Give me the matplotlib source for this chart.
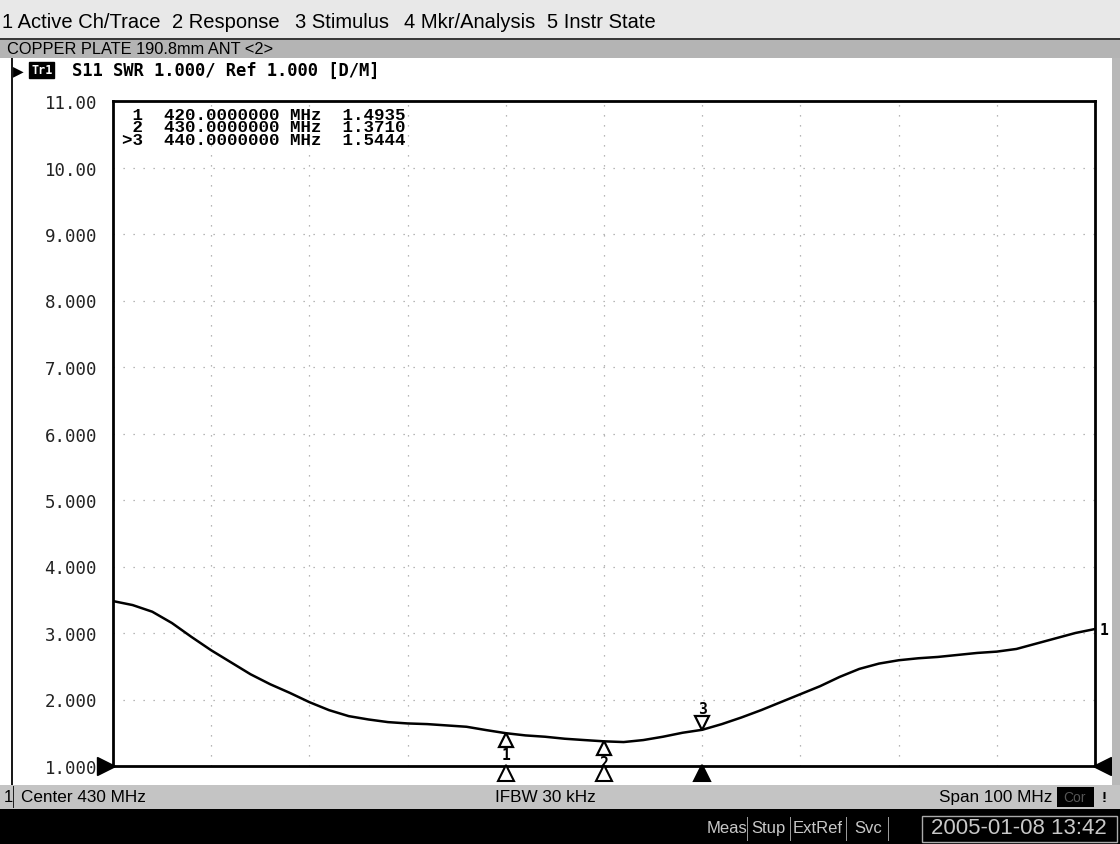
import numpy as np
import matplotlib.pyplot as plt
from matplotlib.patches import Rectangle
import matplotlib.transforms as mtransforms

# S11 SWR trace (center 430 MHz, span 100 MHz)
freq_mhz = [380, 382, 384, 386, 388, 390, 392, 394, 396, 398,
            400, 402, 404, 406, 408, 410, 412, 414, 416, 418,
            420, 422, 424, 426, 428, 430, 432, 434, 436, 438,
            440, 442, 444, 446, 448, 450, 452, 454, 456, 458,
            460, 462, 464, 466, 468, 470, 472, 474, 476, 478, 480]
swr = [3.48, 3.42, 3.32, 3.15, 2.94, 2.74, 2.56, 2.38, 2.23, 2.10,
       1.96, 1.84, 1.75, 1.70, 1.66, 1.64, 1.63, 1.61, 1.59, 1.54,
       1.4935, 1.46, 1.44, 1.41, 1.39, 1.3710, 1.36, 1.39, 1.44, 1.50,
       1.5444, 1.63, 1.73, 1.84, 1.96, 2.08, 2.20, 2.34, 2.46, 2.54,
       2.59, 2.62, 2.64, 2.67, 2.70, 2.72, 2.76, 2.84, 2.92, 3.00, 3.06]

# markers
mkr_num = ['1', '2', '3']
mkr_freq = [420.0, 430.0, 440.0]
mkr_swr = [1.4935, 1.3710, 1.5444]
active_mkr = 2

y_ticks = [1, 2, 3, 4, 5, 6, 7, 8, 9, 10, 11]
y_tick_labels = ['1.000', '2.000', '3.000', '4.000', '5.000', '6.000',
                 '7.000', '8.000', '9.000', '10.00', '11.00']

menu_items = ['1 Active Ch/Trace', '2 Response', '3 Stimulus', '4 Mkr/Analysis', '5 Instr State']
title_text = 'COPPER PLATE 190.8mm ANT <2>'
trace_text = 'S11 SWR 1.000/ Ref 1.000 [D/M]'
status_left = 'Center 430 MHz'
status_mid = 'IFBW 30 kHz'
status_right = 'Span 100 MHz'
buttons = ['Meas', 'Stup', 'ExtRef', 'Svc', '2005-01-08 13:42']

W, H = 1120, 845
fig = plt.figure(figsize=(W / 100, H / 100), dpi=100)
fig.patch.set_facecolor('white')


def fx(x):
    return x / W


def fy(y):
    return 1 - y / H


def band(y0, y1, color, x0=0, x1=W):
    fig.patches.append(Rectangle((fx(x0), fy(y1)), (x1 - x0) / W, (y1 - y0) / H,
                                 transform=fig.transFigure, facecolor=color,
                                 edgecolor='none', zorder=0))


# screen chrome
band(0, 39, '#e8e8e8')
band(39, 41, '#3a3a3a')
band(41, 59, '#b4b4b4')
band(786, 810, '#c4c4c4')
band(810, 845, '#000000')
band(59, 786, '#1a1a1a', x0=11, x1=13)
band(59, 786, '#b8b8b8', x0=1112, x1=1120)

menu_x = [2, 172, 295, 404, 547]
for item, x in zip(menu_items, menu_x):
    fig.text(fx(x), fy(22), item, family='Liberation Sans', fontsize=14.5,
             va='center', ha='left', color='black')
fig.text(fx(7), fy(49), title_text, family='Liberation Sans', fontsize=11.8,
         va='center', ha='left', color='black')

# trace header line
fig.text(fx(13), fy(71), '\u25B6', family='DejaVu Sans', fontsize=10,
         va='center', ha='left', color='black')
fig.text(fx(31), fy(71), 'Tr1', family='DejaVu Sans Mono', fontsize=8.5, weight='bold',
         va='center', ha='left', color='white',
         bbox=dict(boxstyle='square,pad=0.15', fc='black', ec='black'))
fig.text(fx(72), fy(71), trace_text, family='DejaVu Sans Mono', fontsize=12.3,
         weight='bold', va='center', ha='left', color='black')

# status line
fig.text(fx(4), fy(798), '1', family='Liberation Sans', fontsize=12, va='center', ha='left')
band(787, 809, '#222222', x0=13, x1=14)
fig.text(fx(21), fy(798), status_left, family='Liberation Sans', fontsize=12.3,
         va='center', ha='left')
fig.text(fx(545), fy(798), status_mid, family='Liberation Sans', fontsize=12.3,
         va='center', ha='center')
fig.text(fx(1052), fy(798), status_right, family='Liberation Sans', fontsize=12.3,
         va='center', ha='right')
band(788, 808, '#000000', x0=1057, x1=1094)
fig.text(fx(1075), fy(798), 'Cor', family='Liberation Sans', fontsize=10,
         va='center', ha='center', color='#555555')
fig.text(fx(1104), fy(798), '!', family='Liberation Sans', fontsize=11,
         va='center', ha='center', weight='bold')

# soft keys in the black bar
bx = [727, 768, 818, 868, 1019]
for b, x in zip(buttons, bx):
    fig.text(fx(x), fy(829), b, family='Liberation Sans', fontsize=16 if len(b) > 6 else 12,
             va='center', ha='center', color='#c8c8c8')
for x in [747, 790, 846, 888, 922]:
    band(818, 842, '#9a9a9a', x0=x, x1=x + 1)
fig.patches.append(Rectangle((fx(922), fy(843)), 195 / W, 26 / H, transform=fig.transFigure,
                             facecolor='none', edgecolor='#aaaaaa', lw=1, zorder=1))

# plot area
ax = fig.add_axes([fx(113), fy(767), 982 / W, 665 / H])
ax.set_xlim(380, 480)
ax.set_ylim(1, 11)
ax.set_xticks(np.arange(380, 481, 10))
ax.set_yticks(y_ticks)
ax.set_yticklabels(y_tick_labels, family='DejaVu Sans Mono', fontsize=12.5, color='#222222')
ax.tick_params(length=0, labelbottom=False, pad=11.5)
ax.grid(True, color='#a0a0a0', linestyle=(0, (1, 7)), linewidth=0.9)
for s in ax.spines.values():
    s.set_linewidth(2)
    s.set_color('black')

ax.plot(freq_mhz, swr, color='black', lw=1.8, zorder=3)


def shifted(dx, dy):
    return ax.transData + mtransforms.ScaledTranslation(dx / 72, dy / 72, fig.dpi_scale_trans)


ms = 10
for i, (n, f, v) in enumerate(zip(mkr_num, mkr_freq, mkr_swr)):
    if i == active_mkr:
        ax.plot([f], [v], marker='v', ms=ms, mfc='white', mec='black', mew=1.6,
                transform=shifted(0, ms / 2), clip_on=False, zorder=4)
        ax.text(f, v, n, transform=shifted(0, ms + 5), family='DejaVu Sans Mono',
                fontsize=10.5, weight='bold', ha='center', va='center')
    else:
        ax.plot([f], [v], marker='^', ms=ms, mfc='white', mec='black', mew=1.6,
                transform=shifted(0, -ms / 2), clip_on=False, zorder=4)
        ax.text(f, v, n, transform=shifted(0, -ms - 5), family='DejaVu Sans Mono',
                fontsize=10.5, weight='bold', ha='center', va='center')
    # marker flags on the reference line
    ax.plot([f], [1], marker='^', ms=12,
            mfc='black' if i == active_mkr else 'white', mec='black', mew=1.5,
            transform=shifted(0, -5), clip_on=False, zorder=5)

# reference position arrows
ax.plot([380], [1], marker='>', ms=13, color='black', transform=shifted(-5, 0), clip_on=False)
ax.plot([480], [1], marker='<', ms=13, color='black', transform=shifted(5, 0), clip_on=False)
ax.text(freq_mhz[-1], swr[-1], '1', transform=shifted(3, 0), family='DejaVu Sans Mono',
        fontsize=10.5, weight='bold', ha='left', va='center')

# marker readout table, one block of text
rows = []
for i, (n, f, v) in enumerate(zip(mkr_num, mkr_freq, mkr_swr)):
    prefix = '>' if i == active_mkr else ' '
    rows.append(f'{prefix}{n}  {f:.7f} MHz  {v:.4f}')
fig.text(fx(122), fy(108), '\n'.join(rows), family='Liberation Mono', fontsize=12.6,
         weight='bold', va='top', ha='left', color='black', linespacing=0.78)

fig.savefig('out.png', dpi=100)
